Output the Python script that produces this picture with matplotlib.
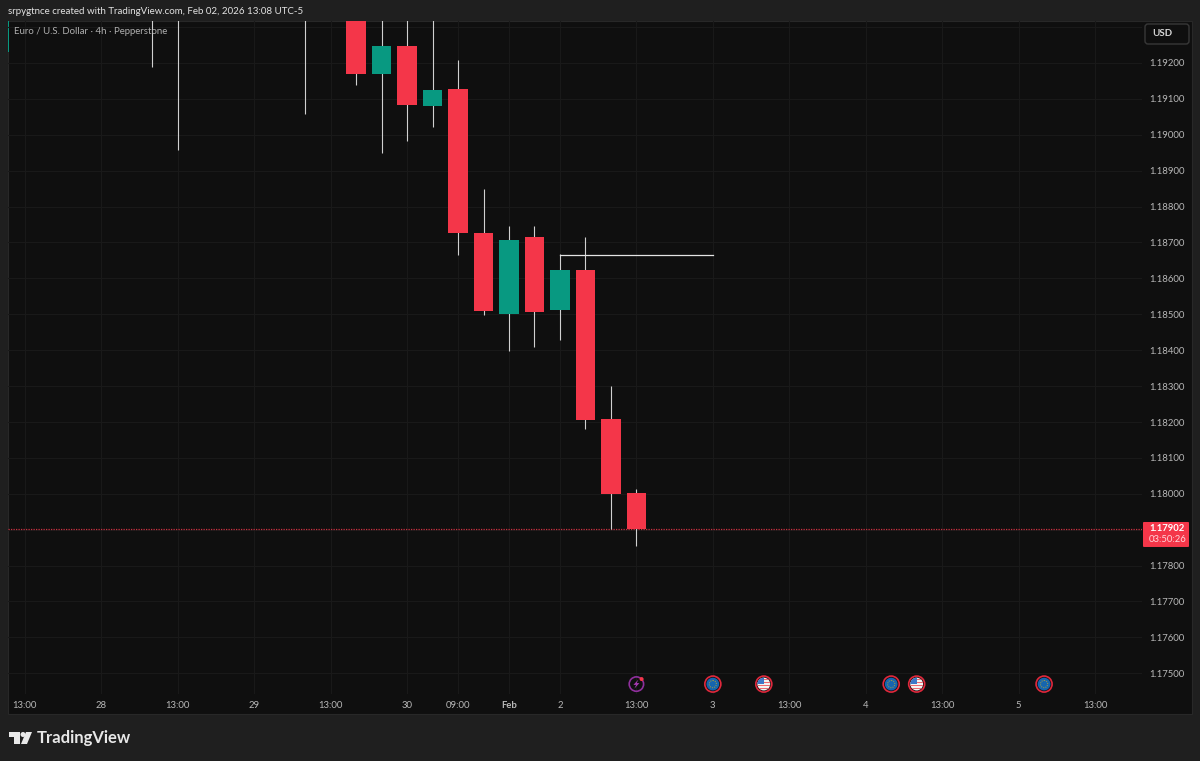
"""EUR/USD 4h candles, TradingView dark snapshot."""

import matplotlib

matplotlib.use("Agg")

import matplotlib.pyplot as plt
from matplotlib.patches import Circle, FancyBboxPatch, Polygon, Rectangle

WIDTH, HEIGHT = 1200, 761
BAR_STEP = 25.48
LAST_BAR_X = 636.4
PX_PER_PRICE = 35900

COLOR_FRAME = "#1f1f1f"
COLOR_PANEL = "#0f0f0f"
COLOR_GRID = "#191919"
COLOR_TEXT = "#b8b8b8"
COLOR_UP = "#089981"
COLOR_DOWN = "#f43649"
COLOR_WICK = "#d0d0d0"

bars = [-19, -18, -13, -11, -10, -9, -8, -7, -6, -5, -4, -3, -2, -1, 0]
opens = [1.1945, 1.1940, 1.1950, 1.1942, 1.19169, 1.19247, 1.19080, 1.19128,
         1.18726, 1.18501, 1.18715, 1.18512, 1.18623, 1.18208, 1.18002]
closes = [1.1940, 1.1935, 1.1945, 1.19169, 1.19247, 1.19083, 1.19125, 1.18726,
          1.18509, 1.18707, 1.18506, 1.18623, 1.18206, 1.17999, 1.17902]
highs = [1.1955, 1.1950, 1.1960, 1.1950, 1.1942, 1.1945, 1.1938, 1.19208,
         1.18849, 1.18746, 1.18746, 1.18668, 1.18715, 1.18300, 1.18013]
lows = [1.19189, 1.18958, 1.19058, 1.19139, 1.18949, 1.18983, 1.19022, 1.18665,
        1.18498, 1.18398, 1.18409, 1.18428, 1.18180, 1.17902, 1.17855]

price_ticks = [1.193, 1.192, 1.191, 1.190, 1.189, 1.188, 1.187, 1.186, 1.185, 1.184,
               1.183, 1.182, 1.181, 1.180, 1.179, 1.178, 1.177, 1.176, 1.175]
price_labels = ["", "1.19200", "1.19100", "1.19000", "1.18900", "1.18800", "1.18700",
                "1.18600", "1.18500", "1.18400", "1.18300", "1.18200", "1.18100",
                "1.18000", "", "1.17800", "1.17700", "1.17600", "1.17500"]
time_ticks = [-24, -21, -18, -15, -12, -9, -7, -5, -3, 0, 3, 6, 9, 12, 15, 18]
time_labels = ["13:00", "28", "13:00", "29", "13:00", "30", "09:00", "Feb", "2",
               "13:00", "3", "13:00", "4", "13:00", "5", "13:00"]

last_price = 1.17902
level_price = 1.18665
level_start, level_end = -3, 3

event_bars = [0, 3, 5, 10, 11, 16]
event_kinds = ["bolt", "eu", "us", "eu", "us", "eu"]
event_price = 1.17470

plt.rcParams["font.family"] = ["Lato", "DejaVu Sans"]

fig = plt.figure(figsize=(WIDTH / 100, HEIGHT / 100), dpi=100, facecolor=COLOR_FRAME)

# overlay in image pixels for the window chrome
bg = fig.add_axes([0, 0, 1, 1], zorder=0)
bg.set_xlim(0, WIDTH)
bg.set_ylim(HEIGHT, 0)
bg.axis("off")
bg.add_patch(Rectangle((8, 21), 1184, 693, facecolor=COLOR_PANEL, edgecolor="#282828", lw=0.8))
bg.add_patch(Rectangle((7.5, 21), 1.5, 31, facecolor=COLOR_UP, edgecolor="none"))

ax = fig.add_axes(
    [8 / WIDTH, 1 - 694 / HEIGHT, (1142 - 8) / WIDTH, (694 - 21) / HEIGHT],
    zorder=1,
)
ax.patch.set_alpha(0)
ax.set_xlim((8 - LAST_BAR_X) / BAR_STEP, (1142 - LAST_BAR_X) / BAR_STEP)
ax.set_ylim(1.192 - (694 - 63) / PX_PER_PRICE, 1.192 + (63 - 21) / PX_PER_PRICE)
for spine in ax.spines.values():
    spine.set_visible(False)

ax.set_axisbelow(True)
ax.grid(True, color=COLOR_GRID, lw=0.8)
ax.yaxis.tick_right()
ax.set_yticks(price_ticks, price_labels)
ax.set_xticks(time_ticks, time_labels)
ax.tick_params(axis="both", length=0, labelsize=6.8, labelcolor=COLOR_TEXT)
ax.tick_params(axis="y", pad=5)
ax.tick_params(axis="x", pad=4.8)
for label, text in zip(ax.get_xticklabels(), time_labels):
    if text == "Feb":
        label.set_fontweight("bold")

colors = [COLOR_UP if c >= o else COLOR_DOWN for o, c in zip(opens, closes)]
ax.vlines(bars, lows, highs, color=COLOR_WICK, lw=0.8, zorder=2)
ax.bar(
    bars,
    [abs(c - o) for o, c in zip(opens, closes)],
    bottom=[min(o, c) for o, c in zip(opens, closes)],
    width=0.76,
    color=colors,
    zorder=3,
)
ax.plot([level_start, level_end], [level_price, level_price], color="#e4e4e4", lw=0.9, zorder=4)
ax.axhline(last_price, color="#c9303f", lw=0.9, ls=(0, (1, 1)), zorder=1.5)

fg = fig.add_axes([0, 0, 1, 1], zorder=2)
fg.set_xlim(0, WIDTH)
fg.set_ylim(HEIGHT, 0)
fg.axis("off")
fg.patch.set_alpha(0)


def to_pixels(bar, price):
    """Data position on the chart to image pixels."""
    px, py = ax.transData.transform((bar, price))
    return px, HEIGHT - py


def draw_eu(x, y):
    fg.add_patch(Circle((x, y), 8.0, facecolor="#0f0f0f", edgecolor="#e0283c", lw=1.2))
    fg.add_patch(Circle((x, y), 6.4, facecolor="#1565b0", edgecolor="none"))
    fg.add_patch(Circle((x, y), 3.6, facecolor="none", edgecolor="#8f9450", lw=0.8, ls=(0, (1, 1))))


def draw_us(x, y):
    fg.add_patch(Circle((x, y), 8.0, facecolor="#0f0f0f", edgecolor="#e0283c", lw=1.2))
    clip = Circle((x, y), 6.4, transform=fg.transData)
    base = Rectangle((x - 7, y - 7), 14, 14, facecolor="#f2f2f2", edgecolor="none")
    fg.add_patch(base)
    base.set_clip_path(clip)
    for offset in (-5.5, -2.5, 0.5, 3.5):
        stripe = Rectangle((x - 7, y + offset), 14, 1.5, facecolor="#ee6a72", edgecolor="none")
        fg.add_patch(stripe)
        stripe.set_clip_path(clip)
    canton = Rectangle((x - 7, y - 7), 7.5, 7, facecolor="#3b78c8", edgecolor="none")
    fg.add_patch(canton)
    canton.set_clip_path(clip)


def draw_bolt(x, y):
    fg.add_patch(Circle((x, y), 7.2, facecolor="none", edgecolor="#8f2f9c", lw=1.2))
    fg.add_patch(Polygon(
        [(x + 2, y - 4.5), (x - 3, y + 0.8), (x - 0.3, y + 0.8), (x - 2, y + 4.5), (x + 3, y - 1), (x + 0.3, y - 1)],
        facecolor="#a93ab5",
        edgecolor="none",
    ))
    fg.add_patch(Circle((x + 5.2, y - 5), 2.0, facecolor="#f43649", edgecolor="none"))


for bar, kind in zip(event_bars, event_kinds):
    ex, ey = to_pixels(bar, event_price)
    {"eu": draw_eu, "us": draw_us, "bolt": draw_bolt}[kind](ex, ey)

# header and legend
fg.text(8, 11, "srpygtnce created with TradingView.com, Feb 02, 2026 13:08 UTC-5",
        color="#e2e2e2", fontsize=7.0, va="center")
fg.text(14, 32, "Euro / U.S. Dollar · 4h · Pepperstone", color="#b0b0b0", fontsize=6.9, va="center")

# currency button
fg.add_patch(FancyBboxPatch((1145, 24), 44, 20, boxstyle="round,pad=0,rounding_size=3",
                            facecolor=COLOR_PANEL, edgecolor="#383838", lw=1.0))
fg.text(1152, 34, "USD", color="#d4d4d4", fontsize=7.0, va="center", fontweight="bold")

# last price tag
_, tag_y = to_pixels(0, last_price)
fg.add_patch(FancyBboxPatch((1143, tag_y - 7), 46, 25, boxstyle="round,pad=0,rounding_size=1",
                            facecolor=COLOR_DOWN, edgecolor="none"))
fg.text(1149, tag_y, f"{last_price:.5f}", color="white", fontsize=6.8, va="center", fontweight="bold")
fg.text(1149, tag_y + 11, "03:50:26", color="#ffd5da", fontsize=6.8, va="center")

# TradingView logo
logo = "#e8e8e8"
fg.add_patch(Polygon([(9, 732), (20, 732), (20, 744), (14, 744), (14, 737), (9, 737)],
                     facecolor=logo, edgecolor="none"))
fg.add_patch(Circle((23, 734.5), 2.5, facecolor=logo, edgecolor="none"))
fg.add_patch(Polygon([(26, 732), (32, 732), (27, 744), (21, 744)], facecolor=logo, edgecolor="none"))
fg.text(37, 738, "TradingView", color=logo, fontsize=12.0, fontweight="bold", va="center")

fig.savefig("out.png", dpi=100, facecolor=fig.get_facecolor())
